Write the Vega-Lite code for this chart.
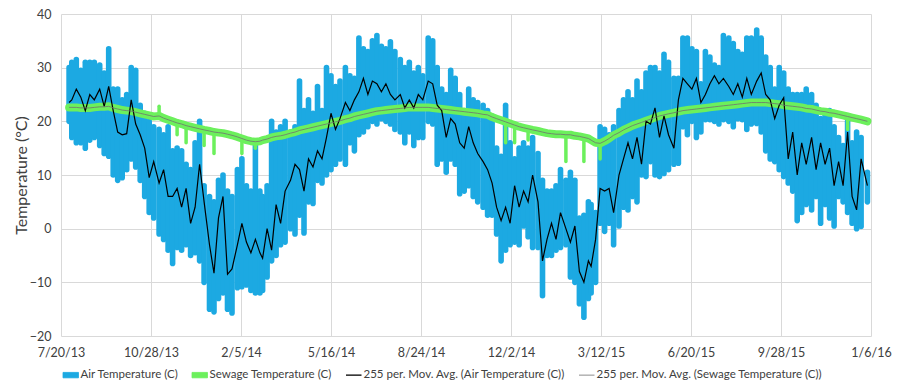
{
 "$schema": "https://vega.github.io/schema/vega-lite/v6.json",
 "width": 810,
 "height": 322,
 "autosize": {"type": "none"},
 "padding": {"left": 61, "top": 14, "right": 28, "bottom": 54},
 "background": "white",
 "config": {"view": {"stroke": null}, "font": "Lato"},
 "data": {"values": [
  {"date":"2013-07-29","hi":30,"lo":20,"avg":23.5,"sew":22.6},
  {"date":"2013-08-01","hi":31,"lo":17,"avg":24,"sew":22.6},
  {"date":"2013-08-06","hi":31.5,"lo":16,"avg":26,"sew":22.6},
  {"date":"2013-08-11","hi":29.5,"lo":16,"avg":24.5,"sew":22.5},
  {"date":"2013-08-16","hi":31,"lo":15,"avg":22,"sew":22.5},
  {"date":"2013-08-21","hi":31,"lo":16.5,"avg":25,"sew":22.5},
  {"date":"2013-08-26","hi":31,"lo":17,"avg":24,"sew":22.6},
  {"date":"2013-09-01","hi":30.5,"lo":15.5,"avg":26,"sew":22.7},
  {"date":"2013-09-06","hi":29,"lo":14,"avg":22.8,"sew":22.7},
  {"date":"2013-09-11","hi":33.5,"lo":13.5,"avg":26.5,"sew":22.8},
  {"date":"2013-09-16","hi":26,"lo":10,"avg":22,"sew":22.5},
  {"date":"2013-09-21","hi":26,"lo":9,"avg":18,"sew":22.3},
  {"date":"2013-09-26","hi":24,"lo":9.5,"avg":17.5,"sew":22.1},
  {"date":"2013-10-01","hi":25,"lo":11,"avg":17.7,"sew":22.0},
  {"date":"2013-10-06","hi":30,"lo":13,"avg":24,"sew":21.9},
  {"date":"2013-10-11","hi":29.5,"lo":11.5,"avg":19.5,"sew":21.7},
  {"date":"2013-10-16","hi":23,"lo":9,"avg":17.5,"sew":21.5},
  {"date":"2013-10-21","hi":21.5,"lo":6,"avg":15,"sew":21.3},
  {"date":"2013-10-26","hi":20,"lo":3,"avg":9.5,"sew":21.1},
  {"date":"2013-10-31","hi":19,"lo":2,"avg":12.5,"sew":20.9},
  {"date":"2013-11-06","hi":18.5,"lo":-1,"avg":8.5,"sew":21.0,"dip":22.8},
  {"date":"2013-11-11","hi":17.5,"lo":-2,"avg":11,"sew":20.6},
  {"date":"2013-11-16","hi":19,"lo":-4,"avg":6,"sew":20.3},
  {"date":"2013-11-21","hi":14.5,"lo":-6.5,"avg":6,"sew":20.0},
  {"date":"2013-11-26","hi":15,"lo":-3.5,"avg":7.5,"sew":19.7,"dip":17.5},
  {"date":"2013-12-01","hi":14.5,"lo":-4,"avg":4,"sew":19.5},
  {"date":"2013-12-06","hi":12,"lo":-3,"avg":7.5,"sew":19.2,"dip":16},
  {"date":"2013-12-11","hi":11,"lo":-5,"avg":1,"sew":19.0},
  {"date":"2013-12-16","hi":16,"lo":-4.5,"avg":4,"sew":18.8},
  {"date":"2013-12-21","hi":20,"lo":-6,"avg":12,"sew":18.6},
  {"date":"2013-12-26","hi":8,"lo":-10,"avg":5,"sew":18.4,"dip":15.5},
  {"date":"2014-01-01","hi":6,"lo":-15,"avg":-3,"sew":18.2},
  {"date":"2014-01-06","hi":5,"lo":-15.5,"avg":-8.3,"sew":18.0,"dip":14},
  {"date":"2014-01-11","hi":9,"lo":-13,"avg":2,"sew":17.9},
  {"date":"2014-01-16","hi":10,"lo":-12,"avg":6,"sew":17.8},
  {"date":"2014-01-21","hi":7,"lo":-15,"avg":-8.5,"sew":17.6},
  {"date":"2014-01-26","hi":6,"lo":-15.7,"avg":-7.5,"sew":17.4},
  {"date":"2014-02-01","hi":11,"lo":-11,"avg":-3,"sew":17.1},
  {"date":"2014-02-06","hi":13,"lo":-10.8,"avg":1,"sew":16.8,"dip":14},
  {"date":"2014-02-11","hi":8,"lo":-10.5,"avg":-2.5,"sew":16.5},
  {"date":"2014-02-16","hi":7,"lo":-11.5,"avg":-4.5,"sew":16.3},
  {"date":"2014-02-21","hi":15.5,"lo":-12,"avg":-2,"sew":16.2,"dip":15},
  {"date":"2014-02-26","hi":7,"lo":-12,"avg":-4.5,"sew":16.3},
  {"date":"2014-03-01","hi":6,"lo":-11.5,"avg":-5.5,"sew":16.5},
  {"date":"2014-03-06","hi":8,"lo":-9,"avg":0,"sew":16.7},
  {"date":"2014-03-11","hi":20,"lo":-6,"avg":-4,"sew":17.0},
  {"date":"2014-03-16","hi":18,"lo":-5,"avg":4.5,"sew":17.2},
  {"date":"2014-03-21","hi":19,"lo":-3,"avg":1,"sew":17.3},
  {"date":"2014-03-26","hi":20,"lo":-2.5,"avg":7,"sew":17.5},
  {"date":"2014-04-01","hi":18,"lo":0,"avg":9,"sew":17.8},
  {"date":"2014-04-06","hi":19,"lo":-1,"avg":12,"sew":18.0},
  {"date":"2014-04-11","hi":27.5,"lo":2.5,"avg":11,"sew":18.3},
  {"date":"2014-04-16","hi":22,"lo":-0.8,"avg":7,"sew":18.5},
  {"date":"2014-04-21","hi":24,"lo":5,"avg":13,"sew":18.7},
  {"date":"2014-04-26","hi":21.5,"lo":4.7,"avg":11.5,"sew":18.9},
  {"date":"2014-05-01","hi":26.5,"lo":9,"avg":14.5,"sew":19.1},
  {"date":"2014-05-06","hi":22,"lo":8.5,"avg":13,"sew":19.3},
  {"date":"2014-05-11","hi":30,"lo":10,"avg":17,"sew":19.5},
  {"date":"2014-05-16","hi":28.5,"lo":11,"avg":21.5,"sew":19.7},
  {"date":"2014-05-21","hi":26.5,"lo":12,"avg":18.5,"sew":19.9},
  {"date":"2014-05-26","hi":27.5,"lo":13,"avg":20.5,"sew":20.1},
  {"date":"2014-06-01","hi":30,"lo":12,"avg":23.5,"sew":20.4},
  {"date":"2014-06-06","hi":28.5,"lo":16,"avg":22,"sew":20.6},
  {"date":"2014-06-11","hi":28,"lo":14.5,"avg":24,"sew":20.9},
  {"date":"2014-06-16","hi":35.5,"lo":17.5,"avg":25.5,"sew":21.1},
  {"date":"2014-06-21","hi":33.5,"lo":18,"avg":28,"sew":21.3},
  {"date":"2014-06-26","hi":33,"lo":19,"avg":25,"sew":21.5},
  {"date":"2014-07-01","hi":35,"lo":20,"avg":27.5,"sew":21.7},
  {"date":"2014-07-06","hi":36,"lo":19.5,"avg":27,"sew":21.9},
  {"date":"2014-07-11","hi":34,"lo":20.5,"avg":25.5,"sew":22.0},
  {"date":"2014-07-16","hi":33.5,"lo":20,"avg":27,"sew":22.1},
  {"date":"2014-07-21","hi":34.8,"lo":19.5,"avg":25,"sew":22.2},
  {"date":"2014-07-26","hi":33,"lo":18.5,"avg":24,"sew":22.3},
  {"date":"2014-08-01","hi":31.5,"lo":18,"avg":25,"sew":22.4},
  {"date":"2014-08-06","hi":30,"lo":16,"avg":22.5,"sew":22.5},
  {"date":"2014-08-11","hi":31,"lo":18,"avg":24,"sew":22.6},
  {"date":"2014-08-16","hi":29,"lo":15.5,"avg":22.5,"sew":22.6},
  {"date":"2014-08-21","hi":30,"lo":17,"avg":25,"sew":22.6},
  {"date":"2014-08-26","hi":28.5,"lo":17,"avg":24,"sew":22.6},
  {"date":"2014-09-01","hi":35.5,"lo":20,"avg":27.5,"sew":22.6},
  {"date":"2014-09-06","hi":35,"lo":19.5,"avg":27,"sew":22.5},
  {"date":"2014-09-11","hi":30,"lo":12,"avg":23,"sew":22.4},
  {"date":"2014-09-16","hi":26,"lo":13,"avg":22,"sew":22.3},
  {"date":"2014-09-21","hi":25,"lo":10.5,"avg":17,"sew":22.2},
  {"date":"2014-09-26","hi":29.5,"lo":13,"avg":20.5,"sew":22.1},
  {"date":"2014-10-01","hi":28,"lo":12,"avg":19.5,"sew":22.0},
  {"date":"2014-10-06","hi":25,"lo":6.5,"avg":16,"sew":21.9},
  {"date":"2014-10-11","hi":22,"lo":7,"avg":15,"sew":21.8},
  {"date":"2014-10-16","hi":26,"lo":8,"avg":19,"sew":21.7},
  {"date":"2014-10-21","hi":24,"lo":6,"avg":16,"sew":21.6},
  {"date":"2014-10-26","hi":23.5,"lo":5,"avg":14,"sew":21.5},
  {"date":"2014-11-01","hi":23,"lo":4,"avg":12.5,"sew":21.3},
  {"date":"2014-11-06","hi":22,"lo":2.5,"avg":11,"sew":21.2},
  {"date":"2014-11-11","hi":21,"lo":2.5,"avg":8.5,"sew":20.8},
  {"date":"2014-11-16","hi":15,"lo":-1,"avg":4,"sew":20.5},
  {"date":"2014-11-21","hi":13.5,"lo":-6,"avg":1.5,"sew":20.2},
  {"date":"2014-11-26","hi":23,"lo":-4,"avg":4,"sew":19.9,"dip":16},
  {"date":"2014-12-01","hi":16,"lo":-3,"avg":1,"sew":19.6},
  {"date":"2014-12-06","hi":13,"lo":-2.5,"avg":8,"sew":19.3,"dip":16},
  {"date":"2014-12-11","hi":15,"lo":-3,"avg":4,"sew":19.0},
  {"date":"2014-12-16","hi":16,"lo":0.5,"avg":7,"sew":18.8},
  {"date":"2014-12-21","hi":15,"lo":-1.5,"avg":5,"sew":18.6,"dip":16.5},
  {"date":"2014-12-26","hi":17,"lo":-3.5,"avg":10,"sew":18.4},
  {"date":"2015-01-01","hi":14,"lo":-3.5,"avg":5,"sew":18.2},
  {"date":"2015-01-06","hi":9,"lo":-12.5,"avg":-6,"sew":18.0},
  {"date":"2015-01-11","hi":7,"lo":-5,"avg":-2,"sew":17.8},
  {"date":"2015-01-16","hi":7,"lo":-5,"avg":1,"sew":17.7},
  {"date":"2015-01-21","hi":8,"lo":-4,"avg":-2,"sew":17.6},
  {"date":"2015-01-26","hi":11,"lo":-3.5,"avg":3,"sew":17.6},
  {"date":"2015-02-01","hi":9,"lo":-3,"avg":0,"sew":17.5,"dip":12.5},
  {"date":"2015-02-06","hi":10.5,"lo":-9,"avg":-2.5,"sew":17.5},
  {"date":"2015-02-11","hi":9,"lo":-10,"avg":0.5,"sew":17.3},
  {"date":"2015-02-16","hi":2,"lo":-14,"avg":-8,"sew":17.2},
  {"date":"2015-02-21","hi":2.5,"lo":-16.5,"avg":-10,"sew":17.0,"dip":12.5},
  {"date":"2015-02-26","hi":5,"lo":-13,"avg":-6,"sew":16.8},
  {"date":"2015-03-01","hi":4.5,"lo":-12,"avg":-7,"sew":16.5},
  {"date":"2015-03-06","hi":3,"lo":-10,"avg":-2,"sew":16.0},
  {"date":"2015-03-11","hi":19,"lo":1,"avg":7.5,"sew":15.9,"dip":13},
  {"date":"2015-03-16","hi":18.5,"lo":-0.5,"avg":7,"sew":16.3},
  {"date":"2015-03-21","hi":17.5,"lo":1,"avg":7.5,"sew":16.8},
  {"date":"2015-03-26","hi":19,"lo":-3,"avg":3,"sew":17.4},
  {"date":"2015-04-01","hi":22,"lo":0.5,"avg":10,"sew":17.9},
  {"date":"2015-04-06","hi":24,"lo":4,"avg":13,"sew":18.4},
  {"date":"2015-04-11","hi":25.5,"lo":3.5,"avg":16,"sew":18.8},
  {"date":"2015-04-16","hi":24,"lo":6,"avg":13,"sew":19.2},
  {"date":"2015-04-21","hi":27.5,"lo":5,"avg":17,"sew":19.5},
  {"date":"2015-04-26","hi":25.5,"lo":10,"avg":12,"sew":19.8},
  {"date":"2015-05-01","hi":29,"lo":9.7,"avg":20,"sew":20.1},
  {"date":"2015-05-06","hi":30,"lo":12.5,"avg":19.5,"sew":20.4},
  {"date":"2015-05-11","hi":30,"lo":10,"avg":22.5,"sew":20.7},
  {"date":"2015-05-16","hi":29,"lo":9.7,"avg":17,"sew":21.0},
  {"date":"2015-05-21","hi":32.5,"lo":10.3,"avg":21,"sew":21.2},
  {"date":"2015-05-26","hi":31,"lo":11,"avg":17.5,"sew":21.4},
  {"date":"2015-06-01","hi":28,"lo":12,"avg":15,"sew":21.6},
  {"date":"2015-06-06","hi":28,"lo":12.2,"avg":24,"sew":21.8},
  {"date":"2015-06-11","hi":35.5,"lo":19,"avg":28,"sew":22.0},
  {"date":"2015-06-16","hi":35.5,"lo":17.5,"avg":27,"sew":22.1},
  {"date":"2015-06-21","hi":33.5,"lo":20,"avg":26,"sew":22.2},
  {"date":"2015-06-26","hi":33,"lo":17,"avg":28,"sew":22.3},
  {"date":"2015-07-01","hi":27,"lo":18,"avg":23.5,"sew":22.4},
  {"date":"2015-07-06","hi":33,"lo":20.3,"avg":25,"sew":22.5},
  {"date":"2015-07-11","hi":32,"lo":20.3,"avg":27,"sew":22.6},
  {"date":"2015-07-16","hi":30.5,"lo":20,"avg":28.5,"sew":22.7},
  {"date":"2015-07-21","hi":30,"lo":19.5,"avg":27,"sew":22.8},
  {"date":"2015-07-26","hi":36,"lo":20.3,"avg":28,"sew":22.9},
  {"date":"2015-08-01","hi":35.5,"lo":20,"avg":26.5,"sew":23.0},
  {"date":"2015-08-06","hi":34.5,"lo":19,"avg":25,"sew":23.1},
  {"date":"2015-08-11","hi":33,"lo":20.5,"avg":27,"sew":23.2},
  {"date":"2015-08-16","hi":32.5,"lo":20.3,"avg":24.5,"sew":23.3},
  {"date":"2015-08-21","hi":35.5,"lo":18.5,"avg":28,"sew":23.4},
  {"date":"2015-08-26","hi":35.5,"lo":19.5,"avg":25,"sew":23.5},
  {"date":"2015-09-01","hi":37,"lo":19.6,"avg":27.5,"sew":23.5},
  {"date":"2015-09-06","hi":35.5,"lo":18,"avg":29,"sew":23.5},
  {"date":"2015-09-11","hi":32,"lo":14.5,"avg":25,"sew":23.5},
  {"date":"2015-09-16","hi":30,"lo":13,"avg":24,"sew":23.4},
  {"date":"2015-09-21","hi":26,"lo":12.5,"avg":20.5,"sew":23.3},
  {"date":"2015-09-26","hi":30,"lo":11,"avg":23,"sew":23.2},
  {"date":"2015-10-01","hi":29,"lo":9.7,"avg":24.4,"sew":23.0},
  {"date":"2015-10-06","hi":26,"lo":8.5,"avg":13,"sew":22.9},
  {"date":"2015-10-11","hi":25,"lo":7,"avg":18,"sew":22.8},
  {"date":"2015-10-16","hi":25,"lo":1.5,"avg":10,"sew":22.7},
  {"date":"2015-10-21","hi":25,"lo":3,"avg":16,"sew":22.6},
  {"date":"2015-10-26","hi":26,"lo":4.5,"avg":12,"sew":22.4},
  {"date":"2015-11-01","hi":25,"lo":3.5,"avg":17,"sew":22.3},
  {"date":"2015-11-06","hi":23,"lo":6,"avg":11,"sew":22.1},
  {"date":"2015-11-11","hi":20.5,"lo":1,"avg":16,"sew":21.9},
  {"date":"2015-11-16","hi":21.5,"lo":4.5,"avg":12,"sew":21.8},
  {"date":"2015-11-21","hi":22,"lo":2,"avg":15,"sew":21.6},
  {"date":"2015-11-26","hi":19,"lo":0.5,"avg":8,"sew":21.5},
  {"date":"2015-12-01","hi":17,"lo":6,"avg":12.5,"sew":21.3},
  {"date":"2015-12-06","hi":15.5,"lo":5,"avg":8,"sew":21.1},
  {"date":"2015-12-11","hi":20,"lo":3,"avg":18,"sew":20.9,"dip":18.5},
  {"date":"2015-12-16","hi":16,"lo":1,"avg":6,"sew":20.7},
  {"date":"2015-12-21","hi":18,"lo":0,"avg":3.5,"sew":20.5},
  {"date":"2015-12-26","hi":17,"lo":0.4,"avg":13,"sew":20.3},
  {"date":"2016-01-02","hi":10.5,"lo":5,"avg":8,"sew":20.0}
 ]},
 "encoding": {
  "x": {
   "field": "date", "type": "temporal",
   "scale": {"domain": [{"year": 2013, "month": 7, "date": 20}, {"year": 2016, "month": 1, "date": 6}]},
   "axis": {
    "values": [
     {"year": 2013, "month": 7, "date": 20},
     {"year": 2013, "month": 10, "date": 28},
     {"year": 2014, "month": 2, "date": 5},
     {"year": 2014, "month": 5, "date": 16},
     {"year": 2014, "month": 8, "date": 24},
     {"year": 2014, "month": 12, "date": 2},
     {"year": 2015, "month": 3, "date": 12},
     {"year": 2015, "month": 6, "date": 20},
     {"year": 2015, "month": 9, "date": 28},
     {"year": 2016, "month": 1, "date": 6}
    ],
    "format": "%-m/%-d/%y",
    "title": null,
    "grid": true, "gridColor": "#d9d9d9", "gridWidth": 1,
    "domain": false, "ticks": false,
    "labelFont": "Lato", "labelFontSize": 12.5, "labelColor": "#404040",
    "labelPadding": 10, "labelOverlap": false, "labelFlush": false
   }
  }
 },
 "layer": [
  {
   "mark": {"type": "rule", "strokeWidth": 5.6, "strokeCap": "round"},
   "encoding": {
    "y": {
     "field": "lo", "type": "quantitative",
     "scale": {"domain": [-20, 40], "nice": false, "zero": false},
     "axis": {
      "values": [-20, -10, 0, 10, 20, 30, 40],
      "title": "Temperature (°C)",
      "grid": true, "gridColor": "#d9d9d9", "gridWidth": 1,
      "domain": false, "ticks": false,
      "labelFont": "Lato", "labelFontSize": 12.5, "labelColor": "#404040", "labelPadding": 10,
      "titleFont": "Lato", "titleFontSize": 16, "titleFontWeight": "normal", "titleColor": "#404040", "titlePadding": 0
     }
    },
    "y2": {"field": "hi"},
    "color": {
     "datum": "Air Temperature (C)", "type": "nominal",
     "scale": {
      "domain": ["Air Temperature (C)", "Sewage Temperature (C)", "255 per. Mov. Avg. (Air Temperature (C))", "255 per. Mov. Avg. (Sewage Temperature (C))"],
      "range": ["#1CA9E2", "#6CF05C", "#000000", "#707070"]
     },
     "legend": {
      "orient": "none", "legendX": 4, "legendY": 355, "direction": "horizontal",
      "title": null,
      "labelFont": "Lato", "labelFontSize": 11.5, "labelColor": "#404040", "labelLimit": 0,
      "symbolSize": 240, "columnPadding": 11, "labelOffset": 4,
      "encode": {
       "symbols": {"update": {
        "shape": {"signal": "indexof(['Air Temperature (C)','Sewage Temperature (C)'], datum.value) >= 0 ? 'M-1,-0.35H1V0.35H-1Z' : 'M-1,0H1'"},
        "fill": {"signal": "datum.value == 'Air Temperature (C)' ? '#1CA9E2' : datum.value == 'Sewage Temperature (C)' ? '#6CF05C' : 'transparent'"},
        "stroke": {"signal": "datum.value == '255 per. Mov. Avg. (Air Temperature (C))' ? '#000000' : datum.value == '255 per. Mov. Avg. (Sewage Temperature (C))' ? '#808080' : 'transparent'"},
        "strokeWidth": {"signal": "datum.value == '255 per. Mov. Avg. (Air Temperature (C))' ? 1.3 : 0.8"},
        "opacity": {"value": 1}
       }}
      }
     }
    }
   }
  },
  {
   "mark": {"type": "line", "strokeWidth": 8, "strokeCap": "round", "strokeJoin": "round"},
   "encoding": {
    "y": {"field": "sew", "type": "quantitative"},
    "color": {"datum": "Sewage Temperature (C)", "type": "nominal"}
   }
  },
  {
   "transform": [{"filter": "isValid(datum.dip)"}],
   "mark": {"type": "rule", "strokeWidth": 3.5, "strokeCap": "round"},
   "encoding": {
    "y": {"field": "sew", "type": "quantitative"},
    "y2": {"field": "dip"},
    "color": {"datum": "Sewage Temperature (C)", "type": "nominal"}
   }
  },
  {
   "mark": {"type": "line", "strokeWidth": 1.2},
   "encoding": {
    "y": {"field": "avg", "type": "quantitative"},
    "color": {"datum": "255 per. Mov. Avg. (Air Temperature (C))", "type": "nominal"}
   }
  },
  {
   "mark": {"type": "line", "strokeWidth": 0.8},
   "encoding": {
    "y": {"field": "sew", "type": "quantitative"},
    "color": {"datum": "255 per. Mov. Avg. (Sewage Temperature (C))", "type": "nominal"}
   }
  }
 ]
}
